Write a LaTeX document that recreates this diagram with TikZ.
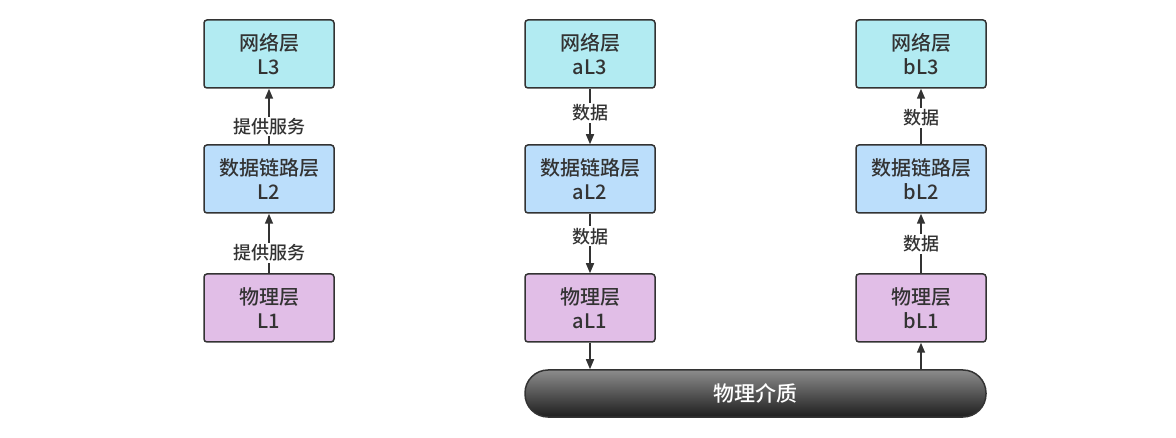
\documentclass[tikz,border=0pt]{standalone}
\usepackage{fontspec}
\setmainfont{Noto Sans CJK SC}[UprightFont=* Medium]
\usetikzlibrary{arrows.meta}
\definecolor{netfill}{HTML}{B2EBF2}
\definecolor{linkfill}{HTML}{BBDEFB}
\definecolor{phyfill}{HTML}{E1BEE7}
\definecolor{inkgray}{HTML}{333333}
\definecolor{medtop}{HTML}{8C8C8C}
\definecolor{medbot}{HTML}{1E1E1E}
\tikzset{
	layer/.style={draw=inkgray, line width=1.5pt, rounded corners=3pt, minimum width=130pt, minimum height=68pt, align=center, text=inkgray, font=\fontsize{20}{24}\selectfont},
	flow/.style={draw=inkgray, line width=1.5pt, -{Triangle[length=10pt,width=8pt]}},
	tag/.style={fill=white, inner sep=1.5pt, text=inkgray, font=\fontsize{18}{20}\selectfont}
}
\begin{document}
\begin{tikzpicture}[x=1pt, y=-1pt]
			%%%%% START %%%%%
			\useasboundingbox (0, 0) rectangle (1176, 438);
			
			% single stack
			\node[layer, fill=netfill] (L3) at (269, 54) {网络层\\L3};
			\node[layer, fill=linkfill] (L2) at (269, 179) {数据链路层\\L2};
			\node[layer, fill=phyfill] (L1) at (269, 308) {物理层\\L1};
			
			\draw[flow] (L2) -- node[tag, pos=0.32] {提供服务} (L3);
			\draw[flow] (L1) -- node[tag, pos=0.34] {提供服务} (L2);
			
			% sender a
			\node[layer, fill=netfill] (aL3) at (590, 54) {网络层\\aL3};
			\node[layer, fill=linkfill] (aL2) at (590, 179) {数据链路层\\aL2};
			\node[layer, fill=phyfill] (aL1) at (590, 308) {物理层\\aL1};
			
			% receiver b
			\node[layer, fill=netfill] (bL3) at (921, 54) {网络层\\bL3};
			\node[layer, fill=linkfill] (bL2) at (921, 179) {数据链路层\\bL2};
			\node[layer, fill=phyfill] (bL1) at (921, 308) {物理层\\bL1};
			
			% medium
			\node[draw=inkgray, line width=1.5pt, rounded corners=23pt, minimum width=461pt, minimum height=47pt, top color=medtop, bottom color=medbot, text=white, font=\fontsize{21}{24}\selectfont] (med) at (755.5, 393.5) {物理介质};
			\coordinate (medA) at (aL1 |- med.north);
			\coordinate (medB) at (bL1 |- med.north);
			
			\draw[flow] (aL3) -- node[tag, pos=0.44] {数据} (aL2);
			\draw[flow] (aL2) -- node[tag, pos=0.38] {数据} (aL1);
			\draw[flow] (aL1) -- (medA);
			
			\draw[flow] (medB) -- (bL1);
			\draw[flow] (bL1) -- node[tag, pos=0.49] {数据} (bL2);
			\draw[flow] (bL2) -- node[tag, pos=0.47] {数据} (bL3);
			%%%%% END %%%%%
\end{tikzpicture}
\end{document}
